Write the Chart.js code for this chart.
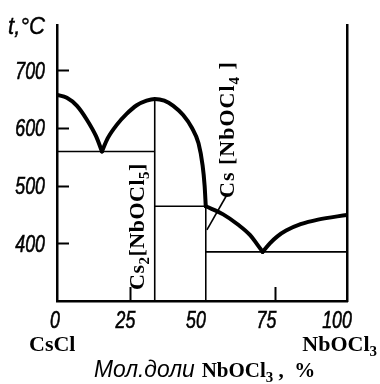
<!DOCTYPE html>
<html><head><meta charset="utf-8">
<script src="https://cdn.jsdelivr.net/npm/chart.js@4/dist/chart.umd.min.js"></script>
<style>html,body{margin:0;padding:0;background:#fff}canvas{display:block}</style>
</head><body>
<canvas id="c" width="380" height="384"></canvas>
<script>
// ---- data (mol % NbOCl3, t °C) ----
const xTickValues = [0, 25, 50, 75, 100];
const yTickValues = [400, 500, 600, 700];
const innerXTicks = [25, 75];
const liquidusA = [[0,657],[3.4,652],[6.9,638],[10.3,614],[13.5,585],[15.5,559]];
const liquidusB = [[15.5,559],[17.5,582],[20.6,605],[24.0,624],[27.5,639],[30.9,647],[33.7,650],[37,647],[40.1,638],[43.5,622],[46.5,600],[48.8,573],[50.2,535],[50.9,500],[51.3,464]];
const liquidusC = [[51.3,464],[57.3,450],[62.5,432],[66.6,414],[68.9,399],[70.9,385]];
const liquidusD = [[70.9,385],[73.4,400],[76.0,412],[79.0,422],[84.0,433],[90.0,441],[100,449]];
const eutectic1 = [[0,559],[33.7,559]];
const compound1 = [[33.7,300],[33.7,650]];
const peritectic = [[33.7,464],[51.3,464]];
const compound2 = [[51.3,300],[51.3,464]];
const eutectic2 = [[51.3,385],[100,385]];
const leader = [[51.7,423],[58.6,484]];

const SANS = "'Liberation Sans','Arimo',sans-serif";
const SERIF = "'Liberation Serif','DejaVu Serif',serif";

const pts = a => a.map(p => ({x: p[0], y: p[1]}));
const thick = (d) => ({data: pts(d), borderColor:'#000', borderWidth:4, pointRadius:0, showLine:true, cubicInterpolationMode:'monotone', borderCapStyle:'round', borderJoinStyle:'round'});
const thin = (d) => ({data: pts(d), borderColor:'#000', borderWidth:1.6, pointRadius:0, showLine:true, tension:0});

function drawRuns(ctx, runs, x, y) {
  let cx = x;
  for (const r of runs) {
    ctx.font = r.font;
    ctx.fillText(r.t, cx, y + (r.dy || 0));
    cx += ctx.measureText(r.t).width;
  }
  return cx - x;
}
function runsWidth(ctx, runs) {
  let w = 0;
  for (const r of runs) { ctx.font = r.font; w += ctx.measureText(r.t).width; }
  return w;
}
// narrow italic text (condensed by horizontal scaling)
function narrowText(ctx, t, x, y, size, align, sx, sw) {
  ctx.save();
  ctx.translate(x, y);
  ctx.scale(sx, 1);
  ctx.font = "italic " + size + "px " + SANS;
  ctx.textAlign = align;
  ctx.fillText(t, 0, 0);
  if (sw) { ctx.lineWidth = sw; ctx.strokeStyle = '#000'; ctx.strokeText(t, 0, 0); }
  const w = ctx.measureText(t).width * sx;
  ctx.restore();
  return w;
}
const B22 = "bold 22px " + SERIF, S15 = "bold 15px " + SERIF;

const decor = {
  id: 'decor',
  afterDraw(chart) {
    const ctx = chart.ctx, ca = chart.chartArea;
    const xs = chart.scales.x, ys = chart.scales.y;
    ctx.save();
    ctx.strokeStyle = '#000'; ctx.lineWidth = 2;
    for (const v of yTickValues) {
      const py = Math.round(ys.getPixelForValue(v)) + 0.5;
      ctx.beginPath(); ctx.moveTo(ca.left, py); ctx.lineTo(ca.left + 12, py); ctx.stroke();
    }
    for (const v of innerXTicks) {
      const px = Math.round(xs.getPixelForValue(v)) + 0.5;
      ctx.beginPath(); ctx.moveTo(px, ca.bottom); ctx.lineTo(px, ca.bottom - 14); ctx.stroke();
    }
    ctx.fillStyle = '#000';
    ctx.textBaseline = 'alphabetic';
    // tick labels
    for (const v of yTickValues) {
      narrowText(ctx, String(v), ca.left - 12, ys.getPixelForValue(v) + 8.5, 24, 'right', 0.74, 0.6);
    }
    for (const v of xTickValues) {
      narrowText(ctx, String(v), xs.getPixelForValue(v) - 2 - v * 0.08, ca.bottom + 27, 24, 'center', 0.74, 0.6);
    }
    // axis unit
    narrowText(ctx, 't,°C', 8, 34, 24, 'left', 0.92, 0.4);
    ctx.textAlign = 'left';
    // component names
    drawRuns(ctx, [{t:'CsCl', font:B22}], 29, 351);
    const nb = [{t:'NbOCl', font:B22},{t:'3', font:S15, dy:5}];
    drawRuns(ctx, nb, 377 - runsWidth(ctx, nb), 351);
    // axis title
    let w = narrowText(ctx, 'Мол.доли', 94, 377, 24, 'left', 0.95);
    ctx.textAlign = 'left';
    drawRuns(ctx, [
      {t:'NbOCl', font:"bold 21px " + SERIF},{t:'3', font:"bold 15px " + SERIF, dy:5},
      {t:' ,  %', font:"bold 21px " + SERIF}
    ], 94 + w + 7, 377);
    // rotated compound labels
    const rot = (runs, x, y, ls) => { ctx.save(); ctx.translate(x, y); ctx.rotate(-Math.PI/2); ctx.letterSpacing = ls; drawRuns(ctx, runs, 0, 0); ctx.restore(); };
    rot([{t:'Cs', font:B22},{t:'2', font:S15, dy:5},{t:'[NbOCl', font:B22},{t:'5', font:S15, dy:5},{t:']', font:B22}], 144, 290, '0.5px');
    rot([{t:'Cs [NbOCl', font:B22},{t:'4', font:S15, dy:5},{t:' ]', font:B22}], 234, 198, '1px');
    ctx.restore();
  }
};

new Chart(document.getElementById('c'), {
  type: 'scatter',
  data: { datasets: [
    thick(liquidusA), thick(liquidusB), thick(liquidusC), thick(liquidusD),
    thin(eutectic1), thin(compound1), thin(peritectic), thin(compound2), thin(eutectic2), thin(leader)
  ]},
  options: {
    responsive: false, animation: false, devicePixelRatio: 1,
    layout: { padding: { top: 25, left: 0, right: 0, bottom: 0 } },
    plugins: { legend: { display: false }, tooltip: { enabled: false } },
    scales: {
      x: {
        type: 'linear', min: 0, max: 100,
        afterFit: s => { s.height = 83; },
        afterBuildTicks: s => { s.ticks = xTickValues.map(v => ({value: v})); },
        grid: { display: false, drawTicks: false },
        border: { display: true, color: '#000', width: 2.5 },
        ticks: { display: false }
      },
      y: {
        type: 'linear', min: 300, max: 778, position: 'left',
        afterFit: s => { s.width = 57; },
        afterBuildTicks: s => { s.ticks = yTickValues.map(v => ({value: v})); },
        grid: { display: false, drawTicks: false },
        border: { display: true, color: '#000', width: 2.5 },
        ticks: { display: false }
      },
      y2: {
        type: 'linear', min: 300, max: 778, position: 'right',
        afterFit: s => { s.width = 33; },
        grid: { display: false, drawTicks: false },
        border: { display: true, color: '#000', width: 2.5 },
        ticks: { display: false }
      }
    }
  },
  plugins: [decor]
});
</script></body></html>
